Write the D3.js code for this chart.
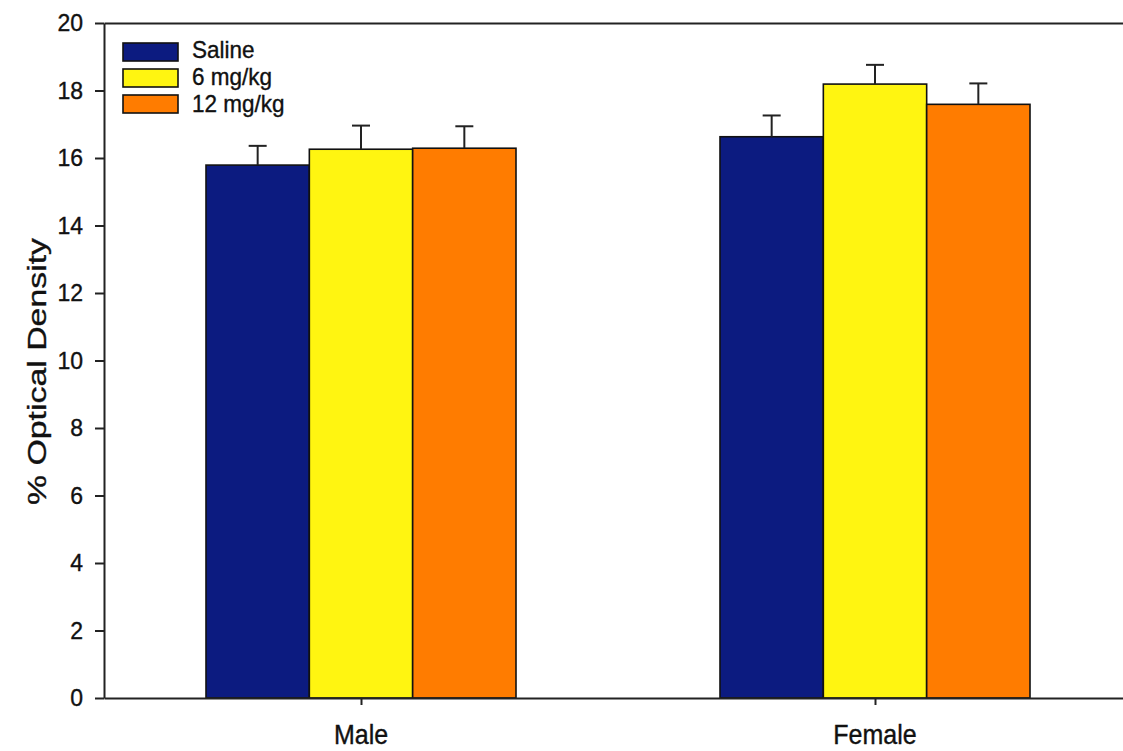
<!DOCTYPE html>
<html>
<head>
<meta charset="utf-8">
<script src="https://cdn.jsdelivr.net/npm/d3@7"></script>
<style>
  html, body { margin: 0; padding: 0; background: #fff; }
  svg { display: block; font-family: "Liberation Sans", Arial, Helvetica, sans-serif; }
  svg text { stroke: #111; stroke-width: 0.35px; }
</style>
</head>
<body>
<svg id="chart" width="1123" height="751"></svg>
<script>
// Groups, treatments and measured means with their standard errors
const groups = ["Male", "Female"];
const treatments = ["Saline", "6 mg/kg", "12 mg/kg"];
const saline = [15.79, 16.63];
const dose6 = [16.26, 18.19];
const dose12 = [16.29, 17.59];
const salineErr = [0.57, 0.63];
const dose6Err = [0.70, 0.57];
const dose12Err = [0.65, 0.62];
const yTicks = [0, 2, 4, 6, 8, 10, 12, 14, 16, 18, 20];
const yTitle = "% Optical Density";

const colors = ["#0c1b80", "#fff511", "#ff7c00"];
const seriesValues = [saline, dose6, dose12];
const seriesErrors = [salineErr, dose6Err, dose12Err];

const rows = groups.flatMap((g, gi) =>
  treatments.map((t, ti) => ({
    group: g, treatment: t, ti,
    value: seriesValues[ti][gi],
    err: seriesErrors[ti][gi]
  })));

const svg = d3.select("#chart");
const plotLeft = 104, plotRight = 1132, plotTop = 23, plotBottom = 698;

const y = d3.scaleLinear().domain([0, 20]).range([plotBottom, plotTop]);
const x = d3.scalePoint().domain(groups).range([plotLeft, plotRight]).padding(0.5);
const xs = d3.scaleBand().domain(treatments).range([-155, 155]).padding(0);

const axisColor = "#222";

// Bars
const bars = svg.append("g");
bars.selectAll("rect").data(rows).join("rect")
  .attr("x", d => x(d.group) + xs(d.treatment))
  .attr("y", d => y(d.value))
  .attr("width", xs.bandwidth())
  .attr("height", d => y(0) - y(d.value))
  .attr("fill", d => colors[d.ti])
  .attr("stroke", "#111")
  .attr("stroke-width", 1.6);

// Upper error bars with caps
const eb = svg.append("g").attr("stroke", "#222").attr("stroke-width", 2);
rows.forEach(d => {
  const cx = x(d.group) + xs(d.treatment) + xs.bandwidth() / 2;
  eb.append("line").attr("x1", cx).attr("x2", cx)
    .attr("y1", y(d.value)).attr("y2", y(d.value + d.err));
  eb.append("line").attr("x1", cx - 9).attr("x2", cx + 9)
    .attr("y1", y(d.value + d.err)).attr("y2", y(d.value + d.err));
});

// Left axis
const gy = svg.append("g").attr("transform", `translate(${plotLeft},0)`)
  .call(d3.axisLeft(y).tickValues(yTicks).tickSize(9).tickSizeOuter(0).tickPadding(12));
gy.selectAll("text").attr("font-size", 23).attr("fill", "#111")
  .attr("font-family", "Liberation Sans, Arial, sans-serif")
  .attr("transform", "scale(1,1.08)");

// Bottom axis
svg.append("g").attr("transform", `translate(0,${plotBottom})`)
  .call(d3.axisBottom(x).tickSize(7).tickSizeOuter(0).tickFormat(""));

// Top frame line
svg.append("g").attr("transform", `translate(0,${plotTop})`)
  .call(d3.axisTop(x).tickValues([]).tickSizeOuter(0));

svg.selectAll(".domain, .tick line").attr("stroke", axisColor).attr("stroke-width", 2);

// Category labels
svg.append("g").selectAll("text").data(groups).join("text")
  .attr("transform", d => `translate(${x(d)},744) scale(1,1.1)`)
  .attr("text-anchor", "middle")
  .attr("font-size", 25)
  .attr("fill", "#111")
  .text(d => d);

// Y axis title
svg.append("text")
  .attr("transform", `translate(46,${(238 + 505) / 2}) rotate(-90)`)
  .attr("text-anchor", "middle")
  .attr("font-size", 26)
  .attr("fill", "#111")
  .attr("textLength", 267)
  .attr("lengthAdjust", "spacingAndGlyphs")
  .text(yTitle);

// Legend
const legend = svg.append("g").attr("transform", "translate(123,43)");
treatments.forEach((t, i) => {
  const g = legend.append("g").attr("transform", `translate(0,${i * 26})`);
  g.append("rect").attr("width", 55).attr("height", 18)
    .attr("fill", colors[i]).attr("stroke", "#111").attr("stroke-width", 1.6);
  g.append("text")
    .attr("transform", `translate(69,${15 + i * 0.8}) scale(1,1.08)`)
    .attr("font-size", 22.5).attr("fill", "#111").text(t);
});
</script>
</body>
</html>
